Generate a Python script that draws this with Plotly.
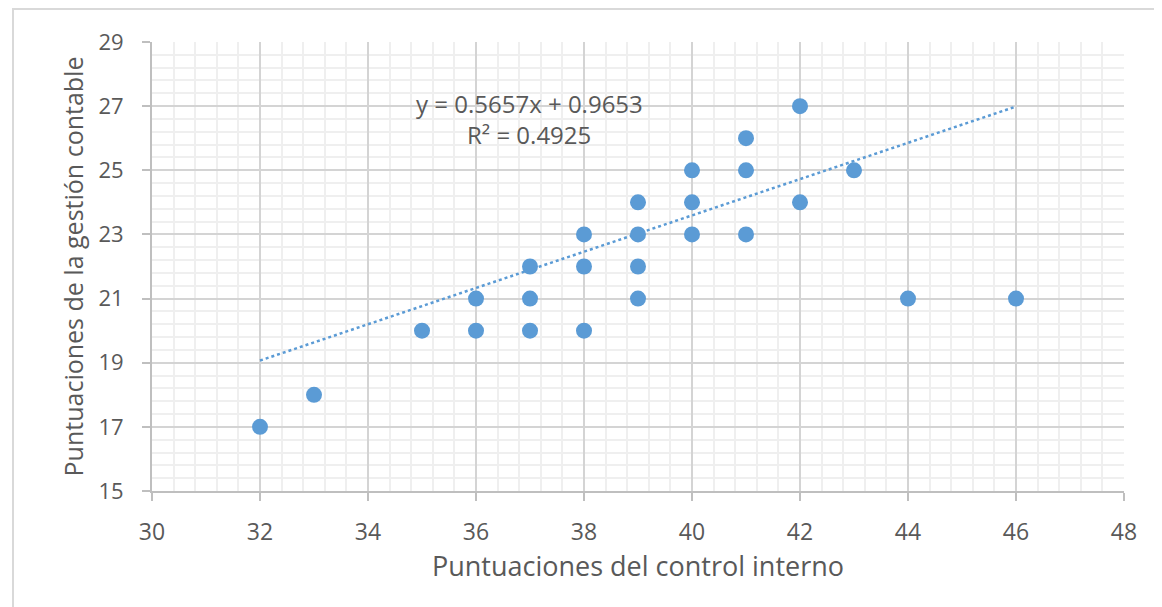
import plotly.graph_objects as go

# Data
control_interno = [32, 33, 35, 36, 36, 37, 37, 37, 38, 38, 38, 39, 39, 39, 39,
                   40, 40, 40, 41, 41, 41, 42, 42, 43, 44, 46]
gestion_contable = [17, 18, 20, 21, 20, 22, 21, 20, 23, 22, 20, 24, 23, 22, 21,
                    25, 24, 23, 26, 25, 23, 27, 24, 25, 21, 21]

slope = 0.5657
intercept = 0.9653
trend_x = [32, 46]
trend_y = [slope * x + intercept for x in trend_x]

x_ticks = [30, 32, 34, 36, 38, 40, 42, 44, 46, 48]
y_ticks = [15, 17, 19, 21, 23, 25, 27, 29]

FONT = "Open Sans"
TXT = "#595959"

fig = go.Figure()
fig.add_trace(go.Scatter(
    x=trend_x, y=trend_y, mode="lines",
    line=dict(color="#5B9BD5", width=2.5, dash="dot"),
    hoverinfo="skip", showlegend=False))
fig.add_trace(go.Scatter(
    x=control_interno, y=gestion_contable, mode="markers",
    marker=dict(color="#5B9BD5", size=16, line=dict(width=0)),
    showlegend=False))

fig.add_annotation(x=0.388, y=0.864, xref="paper", yref="paper",
                   xanchor="center", yanchor="middle",
                   text="y = 0.5657x + 0.9653", showarrow=False,
                   font=dict(family=FONT, size=24, color=TXT))
fig.add_annotation(x=0.388, y=0.793, xref="paper", yref="paper",
                   xanchor="center", yanchor="middle",
                   text="R² = 0.4925", showarrow=False,
                   font=dict(family=FONT, size=24, color=TXT))

# outer chart frame
fig.add_shape(type="rect", xref="paper", yref="paper",
              x0=-0.143, x1=1.05, y0=-0.40, y1=1.0735,
              line=dict(color="#D9D9D9", width=2), layer="below")

fig.update_layout(
    width=1162, height=607,
    margin=dict(l=144, r=46, t=34, b=124),
    paper_bgcolor="white", plot_bgcolor="white",
    font=dict(family=FONT, color=TXT),
    xaxis=dict(
        range=[30, 48], tickvals=x_ticks, showgrid=True,
        gridcolor="#D4D4D4", gridwidth=1.5,
        minor=dict(dtick=0.4, tick0=30, showgrid=True, gridcolor="#EFEFEF", gridwidth=1.5),
        showline=True, linecolor="#BFBFBF", linewidth=2,
        ticks="outside", ticklen=8, tickcolor="#BFBFBF", tickwidth=2,
        ticklabelstandoff=11,
        tickfont=dict(size=23, color=TXT), zeroline=False,
        title=dict(text="Puntuaciones del control interno",
                   font=dict(size=27, color=TXT), standoff=8),
    ),
    yaxis=dict(
        range=[15, 29], tickvals=y_ticks, showgrid=True,
        gridcolor="#D4D4D4", gridwidth=1.5,
        minor=dict(dtick=0.4, tick0=15, showgrid=True, gridcolor="#EFEFEF", gridwidth=1.5),
        showline=True, linecolor="#BFBFBF", linewidth=2,
        ticks="outside", ticklen=8, tickcolor="#BFBFBF", tickwidth=2,
        ticklabelstandoff=14,
        tickfont=dict(size=22, color=TXT), zeroline=False,
        title=dict(text="Puntuaciones de la gestión contable",
                   font=dict(size=25, color=TXT), standoff=8),
    ),
)

fig.write_html("out.html")
